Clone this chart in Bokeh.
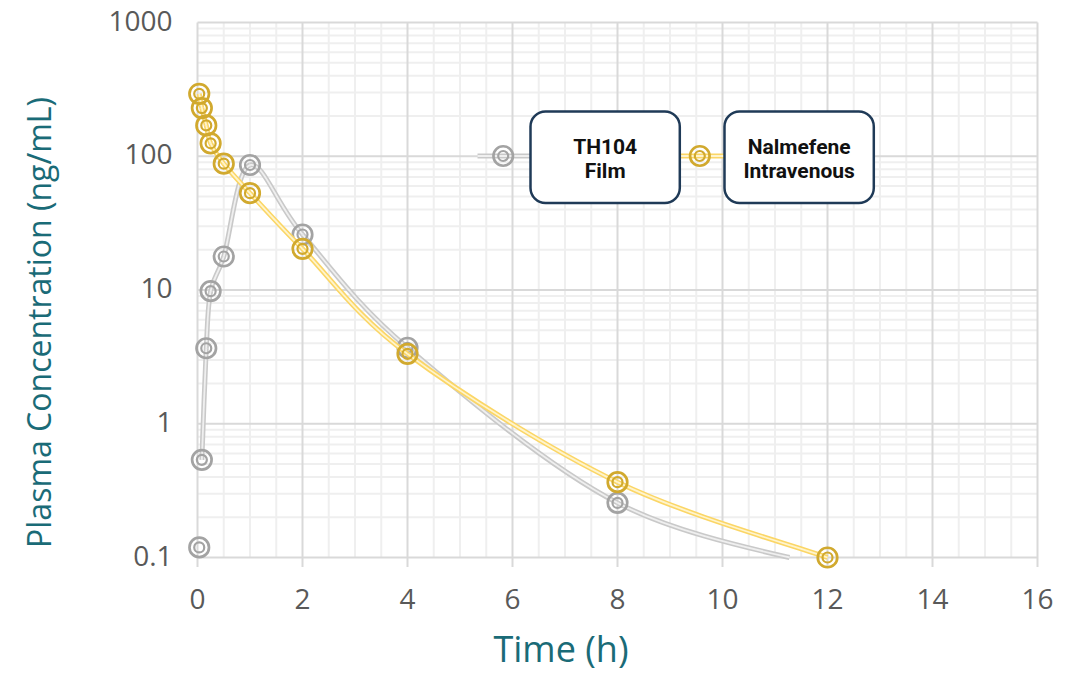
import math
from bokeh.plotting import figure
from bokeh.models import Range1d, BoxAnnotation, Label
from bokeh.core.properties import value
from bokeh.embed import file_html
from bokeh.resources import INLINE

# ---------------- data ----------------
series_names = ["TH104 Film", "Nalmefene Intravenous"]
time_film = [0.033, 0.083, 0.167, 0.25, 0.5, 1, 2, 4, 8, 12]
conc_film = [0.119, 0.537, 3.67, 9.8, 17.8, 86, 26, 3.7, 0.256, 0.085]
time_iv = [0.033, 0.083, 0.167, 0.25, 0.5, 1, 2, 4, 8, 12]
conc_iv = [293, 229, 170, 125, 88, 53, 20.3, 3.33, 0.366, 0.1]

x_ticks = [0, 2, 4, 6, 8, 10, 12, 14, 16]
x_tick_labels = ["0", "2", "4", "6", "8", "10", "12", "14", "16"]
x_minor_step = 0.5
y_ticks = [0.1, 1, 10, 100, 1000]
y_tick_labels = ["0.1", "1", "10", "100", "1000"]
y_minor_mult = [2, 3, 4, 5, 6, 7, 8, 9]
x_title = "Time (h)"
y_title = "Plasma Concentration (ng/mL)"

# ---------------- layout (page pixels of the plot area) ----------------
W, H = 1079, 673
PX0, PXU = 197.0, 52.5          # pixel of x=0, pixels per hour
PY0, PYD = 557.0, 133.75        # pixel of y=0.1, pixels per decade
EM = 0.37                       # baseline correction (fraction of font size)


def tx(px):
    return (px - PX0) / PXU


def cy(py):
    return 10 ** ((PY0 - py) / PYD - 1)


GOLD = "#D1A92E"
GOLD_LINE = "#FBD666"
GOLD_INNER = "#FFF4CC"
GRAY = "#A3A3A3"
GRAY_LINE = "#C9C9C9"
GRAY_INNER = "#EFEFEF"
TEAL = "#1A6B77"
NAVY = "#1F3A57"
FONT = "Open Sans"
TICK_FS = 28

X0, X1 = x_ticks[0], x_ticks[-1]
Y0, Y1 = y_ticks[0], y_ticks[-1]

p = figure(
    width=W, height=H,
    x_range=Range1d(tx(0), tx(W)),
    y_range=Range1d(cy(H), cy(0)),
    y_axis_type="log",
    x_axis_location=None, y_axis_location=None,
    min_border=0,
    output_backend="svg", toolbar_location=None,
    background_fill_color="white", border_fill_color="white",
)
p.outline_line_color = None
p.xgrid.visible = False
p.ygrid.visible = False

# ---------------- grid (from tick lists, bounded to plot area) ----------------
minor_y = [m * 10 ** e for e in range(int(round(math.log10(Y0))), int(round(math.log10(Y1))))
           for m in y_minor_mult]
p.segment(x0=[X0] * len(minor_y), x1=[X1] * len(minor_y), y0=minor_y, y1=minor_y,
          line_color="#EFEFEF", line_width=2)
n_minor = int(round((X1 - X0) / x_minor_step))
mx = [X0 + i * x_minor_step for i in range(n_minor + 1)]
mx = [v for v in mx if v not in x_ticks]
p.segment(x0=mx, x1=mx, y0=[Y0] * len(mx), y1=[Y1] * len(mx),
          line_color="#EFEFEF", line_width=2)
p.segment(x0=[X0] * len(y_ticks), x1=[X1] * len(y_ticks), y0=y_ticks, y1=y_ticks,
          line_color="#D9D9D9", line_width=2)
tick_end = cy(PY0 + 9.5)
p.segment(x0=x_ticks, x1=x_ticks, y0=[tick_end] * len(x_ticks), y1=[Y1] * len(x_ticks),
          line_color="#D9D9D9", line_width=2)

# ---------------- tick labels ----------------
p.text(x=x_ticks, y=[cy(PY0 + 52 - EM * TICK_FS)] * len(x_ticks), text=x_tick_labels,
       text_font=value(FONT), text_font_size=value(f"{TICK_FS}px"), text_color="#595959",
       text_align="center", text_baseline="alphabetic")
lab_shift = 10 ** (-(8.5 - EM * TICK_FS) / PYD)
p.text(x=[tx(172)] * len(y_ticks), y=[t * lab_shift for t in y_ticks], text=y_tick_labels,
       text_font=value(FONT), text_font_size=value(f"{TICK_FS}px"), text_color="#595959",
       text_align="right", text_baseline="alphabetic")


# ---------------- smoothed curves (Bezier, Excel-like) ----------------
def bez_pt(b, u):
    (p0, p1, p2, p3) = b
    a = (1 - u)
    return tuple(a ** 3 * p0[k] + 3 * a * a * u * p1[k] + 3 * a * u * u * p2[k] + u ** 3 * p3[k]
                 for k in range(2))


def split(b, u):
    p0, p1, p2, p3 = b
    lerp = lambda a, c: (a[0] + (c[0] - a[0]) * u, a[1] + (c[1] - a[1]) * u)
    q0, q1, q2 = lerp(p0, p1), lerp(p1, p2), lerp(p2, p3)
    r0, r1 = lerp(q0, q1), lerp(q1, q2)
    s = lerp(r0, r1)
    return (p0, q0, r0, s)


def smooth(xs, ys, ymin):
    P = [(x, math.log10(y)) for x, y in zip(xs, ys)]
    lmin = math.log10(ymin)
    n = len(P)
    segs = []
    for i in range(n - 1):
        p0 = P[i - 1] if i > 0 else P[i]
        p1, p2 = P[i], P[i + 1]
        p3 = P[i + 2] if i + 2 < n else P[i + 1]
        c1 = (p1[0] + (p2[0] - p0[0]) / 6, p1[1] + (p2[1] - p0[1]) / 6)
        c2 = (p2[0] - (p3[0] - p1[0]) / 6, p2[1] - (p3[1] - p1[1]) / 6)
        b = (p1, c1, c2, p2)
        if p2[1] < lmin - 1e-9:
            lo, hi = 0.0, 1.0
            for _ in range(60):
                mid = (lo + hi) / 2
                if bez_pt(b, mid)[1] >= lmin:
                    lo = mid
                else:
                    hi = mid
            b = split(b, lo)
        segs.append(b)
    d = dict(x0=[], y0=[], cx0=[], cy0=[], cx1=[], cy1=[], x1=[], y1=[])
    for (a, c1, c2, e) in segs:
        d["x0"].append(a[0]); d["y0"].append(10 ** a[1])
        d["cx0"].append(c1[0]); d["cy0"].append(10 ** c1[1])
        d["cx1"].append(c2[0]); d["cy1"].append(10 ** c2[1])
        d["x1"].append(e[0]); d["y1"].append(10 ** e[1])
    return d


def marker(xs, ys, col):
    p.scatter(xs, ys, marker="circle", size=19.5, fill_color=None, line_color=col, line_width=2.7)
    p.scatter(xs, ys, marker="circle", size=10, fill_color=None, line_color=col, line_width=2.2)


def draw_series(xs, ys, col, lcol, icol, start):
    d = smooth(xs[start:], ys[start:], Y0)
    p.bezier(line_color=lcol, line_width=5, **d)
    p.bezier(line_color=icol, line_width=1.8, **d)
    vx = [x for x, y in zip(xs, ys) if y >= Y0 - 1e-12]
    vy = [y for y in ys if y >= Y0 - 1e-12]
    marker(vx, vy, col)


draw_series(time_film, conc_film, GRAY, GRAY_LINE, GRAY_INNER, 1)
draw_series(time_iv, conc_iv, GOLD, GOLD_LINE, GOLD_INNER, 0)

# ---------------- legend (callout boxes) ----------------
LEG_FS = 21
leg = [
    dict(lx=(tx(477), tx(530)), mx=tx(502.7), box=(tx(530), tx(679.3)), col=GRAY, lcol=GRAY_LINE,
         icol=GRAY_INNER, lines=series_names[0].split(" ", 1)),
    dict(lx=(tx(679.3), tx(724)), mx=tx(699.3), box=(tx(724), tx(873.3)), col=GOLD, lcol=GOLD_LINE,
         icol=GOLD_INNER, lines=series_names[1].split(" ", 1)),
]
ly = cy(155.5)
for L in leg:
    p.line(list(L["lx"]), [ly, ly], line_color=L["lcol"], line_width=5)
    p.line(list(L["lx"]), [ly, ly], line_color=L["icol"], line_width=1.8)
    marker([L["mx"]], [ly], L["col"])
    p.add_layout(BoxAnnotation(left=L["box"][0], right=L["box"][1], bottom=cy(202.5), top=cy(111),
                               fill_color="white", fill_alpha=1.0, line_color=NAVY, line_alpha=1.0,
                               line_width=2.5, border_radius=15))
    cx = (L["box"][0] + L["box"][1]) / 2
    for txt, py in zip(L["lines"], [154.5, 178]):
        p.add_layout(Label(x=cx, y=cy(py - EM * LEG_FS), text=txt, text_font="Roboto",
                           text_font_size=f"{LEG_FS}px", text_font_style="bold",
                           text_color="#111111", text_align="center", text_baseline="alphabetic"))

# ---------------- axis titles ----------------
XT_FS, YT_FS = 36, 32
p.add_layout(Label(x=tx(560.5), y=cy(661 - EM * XT_FS), text=x_title, text_font=FONT,
                   text_font_size=f"{XT_FS}px", text_color=TEAL, text_align="center",
                   text_baseline="alphabetic"))
p.add_layout(Label(x=tx(50 - EM * YT_FS), y=cy(322), text=y_title, text_font=FONT,
                   text_font_size=f"{YT_FS}px", text_color=TEAL, text_align="center",
                   text_baseline="alphabetic", angle=math.pi / 2))

open("out.html", "w").write(file_html(p, INLINE))
